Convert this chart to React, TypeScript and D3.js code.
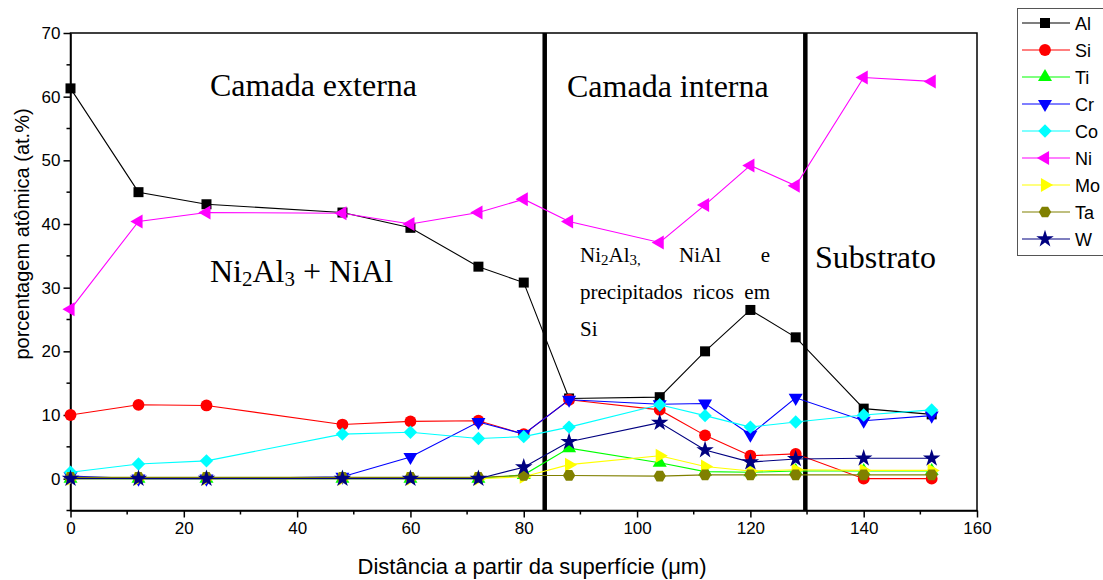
import React, { useEffect, useRef } from "react";
import * as d3 from "d3";

// distancia a partir da superficie (um)
const distancia = [0, 12, 24, 48, 60, 72, 80, 88, 104, 112, 120, 128, 140, 152];

// porcentagem atomica por elemento
const al = [61.3, 45, 43.1, 41.8, 39.4, 33.3, 30.8, 12.6, 12.8, 20, 26.5, 22.2, 11, 10.1];
const si = [10, 11.6, 11.5, 8.5, 9, 9.1, 7, 12.4, 10.8, 6.8, 3.6, 3.9, 0, 0];
const ti = [0, 0, 0, 0, 0, 0, 0.6, 4.8, 2.5, 1.1, 1, 1.2, 1.2, 1.2];
const cr = [0.4, 0, 0, 0.3, 3.4, 8.9, 7, 12.4, 11.7, 11.8, 6.9, 12.7, 9.1, 9.9];
const co = [1, 2.3, 2.8, 7, 7.3, 6.3, 6.6, 8.1, 11.6, 9.9, 8.1, 8.9, 10, 10.8];
const ni = [26.6, 40.4, 41.8, 41.7, 40, 41.8, 43.9, 40.4, 37.1, 43, 49.2, 46, 63, 62.4];
const mo = [0, 0, 0, 0, 0, 0, 0.3, 2.2, 3.6, 1.9, 1.2, 1.4, 1.3, 1.3];
const ta = [0.2, 0.2, 0.2, 0.2, 0.2, 0.2, 0.5, 0.5, 0.4, 0.6, 0.6, 0.6, 0.6, 0.6];
const w = [0, 0, 0, 0, 0, 0, 1.8, 5.8, 8.8, 4.5, 2.6, 3.1, 3.2, 3.2];

const elementos = ["Al", "Si", "Ti", "Cr", "Co", "Ni", "Mo", "Ta", "W"];
const valores = [al, si, ti, cr, co, ni, mo, ta, w];
const cores = ["#000000", "#ff0000", "#00ff00", "#0000ff", "#00ffff", "#ff00ff", "#ffff00", "#808000", "#000080"];
const marcadores = ["square", "circle", "up", "down", "diamond", "left", "right", "hexagon", "star"];

const xTicks = [0, 20, 40, 60, 80, 100, 120, 140, 160];
const yTicks = [0, 10, 20, 30, 40, 50, 60, 70];
const limites = [83.7, 129.7];

const sans = "Arial, 'Liberation Sans', sans-serif";
const serif = "'Times New Roman', 'Liberation Serif', serif";

function markerPath(kind: string): { d: string; rot: number } {
  const tri = d3.symbol(d3.symbolTriangle, 85)() as string;
  switch (kind) {
    case "square":
      return { d: d3.symbol(d3.symbolSquare, 100)() as string, rot: 0 };
    case "circle":
      return { d: d3.symbol(d3.symbolCircle, 110)() as string, rot: 0 };
    case "up":
      return { d: tri, rot: 0 };
    case "down":
      return { d: tri, rot: 180 };
    case "left":
      return { d: tri, rot: -90 };
    case "right":
      return { d: tri, rot: 90 };
    case "diamond":
      return { d: d3.symbol(d3.symbolSquare, 90)() as string, rot: 45 };
    case "hexagon": {
      const r = 6.2;
      const pts = d3.range(6).map(i => {
        const a = (Math.PI / 3) * i;
        return [r * Math.cos(a), r * Math.sin(a)] as [number, number];
      });
      return { d: "M" + pts.map(p => p.join(",")).join("L") + "Z", rot: 0 };
    }
    default:
      return { d: d3.symbol(d3.symbolStar, 95)() as string, rot: 0 };
  }
}

export default function App() {
  const chartRef = useRef<SVGSVGElement>(null);

  useEffect(() => {
    const svg = d3.select(chartRef.current);
    svg.selectAll("*").remove();

    const left = 70.5, right = 977, top = 33, bottom = 510.5;

    const x = d3.scaleLinear().domain([0, 160]).range([left, right]);
    const y = d3.scaleLinear().domain([-5, 70]).range([bottom, top]);

    // moldura
    svg.append("rect")
      .attr("x", left).attr("y", top)
      .attr("width", right - left).attr("height", bottom - top)
      .attr("fill", "none").attr("stroke", "#000").attr("stroke-width", 1.5);

    // eixo x
    const xAxis = svg.append("g")
      .attr("transform", `translate(0,${bottom})`)
      .call(d3.axisBottom(x).tickValues(xTicks).tickSize(7).tickPadding(4).tickSizeOuter(0));
    xAxis.select(".domain").attr("stroke-width", 1.5);
    xAxis.selectAll("line").attr("stroke-width", 1.5);
    xAxis.selectAll("text").attr("font-family", sans).attr("font-size", 17).attr("fill", "#000");
    svg.append("g")
      .attr("transform", `translate(0,${bottom})`)
      .selectAll("line")
      .data(d3.range(10, 160, 20))
      .enter().append("line")
        .attr("x1", d => x(d)).attr("x2", d => x(d))
        .attr("y1", 0).attr("y2", 4)
        .attr("stroke", "#000").attr("stroke-width", 1.5);

    // eixo y
    const yAxis = svg.append("g")
      .attr("transform", `translate(${left},0)`)
      .call(d3.axisLeft(y).tickValues(yTicks).tickSize(7).tickPadding(3).tickSizeOuter(0));
    yAxis.select(".domain").attr("stroke-width", 1.5);
    yAxis.selectAll("line").attr("stroke-width", 1.5);
    yAxis.selectAll("text").attr("font-family", sans).attr("font-size", 17).attr("fill", "#000");
    svg.append("g")
      .attr("transform", `translate(${left},0)`)
      .selectAll("line")
      .data(d3.range(-5, 70, 10))
      .enter().append("line")
        .attr("x1", -4).attr("x2", 0)
        .attr("y1", d => y(d)).attr("y2", d => y(d))
        .attr("stroke", "#000").attr("stroke-width", 1.5);

    // titulos
    svg.append("text")
      .attr("x", 532).attr("y", 574)
      .attr("text-anchor", "middle")
      .attr("font-family", sans).attr("font-size", 22)
      .text("Distância a partir da superfície (μm)");
    svg.append("text")
      .attr("transform", "translate(29,234) rotate(-90)")
      .attr("text-anchor", "middle")
      .attr("font-family", sans).attr("font-size", 20)
      .text("porcentagem atômica (at.%)");

    // limites das camadas
    svg.append("g")
      .selectAll("line")
      .data(limites)
      .enter().append("line")
        .attr("x1", d => x(d)).attr("x2", d => x(d))
        .attr("y1", top).attr("y2", bottom)
        .attr("stroke", "#000").attr("stroke-width", 4.5);

    // series
    const line = d3.line<number>()
      .x((d, i) => x(distancia[i]))
      .y(d => y(d));

    elementos.forEach((el, k) => {
      const g = svg.append("g");
      g.append("path")
        .attr("d", line(valores[k]) as string)
        .attr("fill", "none")
        .attr("stroke", cores[k])
        .attr("stroke-width", 1.1);
      const m = markerPath(marcadores[k]);
      g.selectAll("path.mk")
        .data(valores[k])
        .enter().append("path")
          .attr("class", "mk")
          .attr("d", m.d)
          .attr("transform", (d, i) => `translate(${x(distancia[i])},${y(d)}) rotate(${m.rot})`)
          .attr("fill", cores[k]);
    });

    // anotacoes
    const big = (tx: number, ty: number, s: string) =>
      svg.append("text").attr("x", tx).attr("y", ty)
        .attr("font-family", serif).attr("font-size", 32).text(s);
    big(210, 96, "Camada externa");
    big(567, 97, "Camada interna");
    big(815, 268, "Substrato");

    const fase = svg.append("text").attr("x", 210).attr("y", 282)
      .attr("font-family", serif).attr("font-size", 32);
    fase.append("tspan").text("Ni");
    fase.append("tspan").attr("font-size", 21).attr("dy", 4).text("2");
    fase.append("tspan").attr("dy", -4).text("Al");
    fase.append("tspan").attr("font-size", 21).attr("dy", 4).text("3");
    fase.append("tspan").attr("dy", -4).text(" + NiAl");

    const small = (tx: number, ty: number, s: string, anchor = "start") =>
      svg.append("text").attr("x", tx).attr("y", ty).attr("text-anchor", anchor)
        .attr("font-family", serif).attr("font-size", 21).text(s);

    const l1 = svg.append("text").attr("x", 580).attr("y", 262)
      .attr("font-family", serif).attr("font-size", 21);
    l1.append("tspan").text("Ni");
    l1.append("tspan").attr("font-size", 15).attr("dy", 3).text("2");
    l1.append("tspan").attr("dy", -3).text("Al");
    l1.append("tspan").attr("font-size", 15).attr("dy", 3).text("3,");
    small(679, 262, "NiAl");
    small(770, 262, "e", "end");
    small(580, 299, "precipitados");
    small(693, 299, "ricos");
    small(770, 299, "em", "end");
    small(580, 336, "Si");

    // legenda
    const lg = svg.append("g");
    lg.append("rect")
      .attr("x", 1017.5).attr("y", 8.5)
      .attr("width", 120).attr("height", 247)
      .attr("fill", "#fff").attr("stroke", "#555").attr("stroke-width", 1);
    elementos.forEach((el, k) => {
      const ly = 23 + k * 27;
      lg.append("line")
        .attr("x1", 1022).attr("x2", 1070)
        .attr("y1", ly).attr("y2", ly)
        .attr("stroke", cores[k]).attr("stroke-width", 1.1);
      const m = markerPath(marcadores[k]);
      lg.append("path")
        .attr("d", m.d)
        .attr("transform", `translate(1045,${ly}) rotate(${m.rot})`)
        .attr("fill", cores[k]);
      lg.append("text")
        .attr("x", 1075).attr("y", ly + 6.5)
        .attr("font-family", sans).attr("font-size", 18)
        .text(el);
    });
  }, []);

  return (
    <svg
      ref={chartRef}
      width={1103}
      height={580}
      style={{ position: "absolute", left: 0, top: 0, background: "#fff" }}
    />
  );
}
